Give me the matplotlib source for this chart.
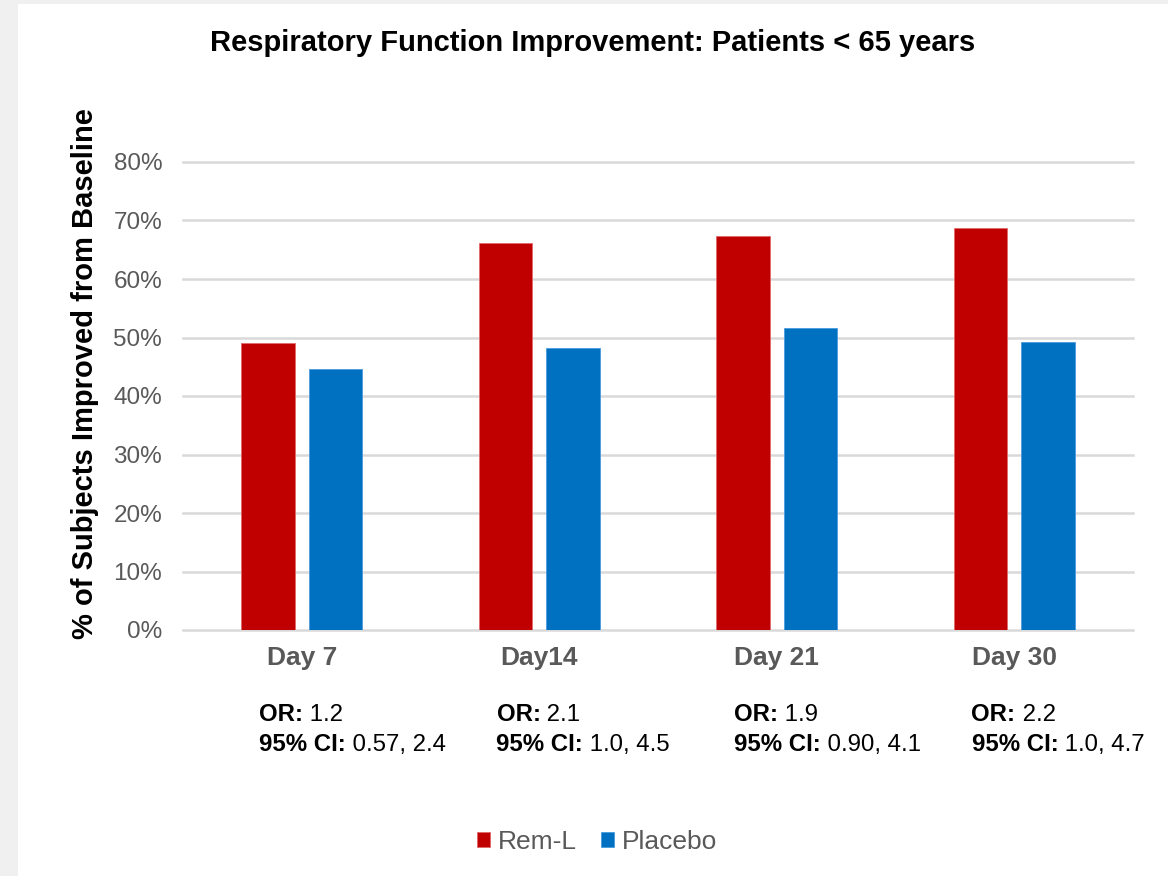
import numpy as np
import matplotlib.pyplot as plt
from matplotlib.patches import Rectangle

plt.rcParams['font.family'] = ['Liberation Sans', 'DejaVu Sans']

days = ["Day 7", "Day14", "Day 21", "Day 30"]
rem_l = [0.490, 0.662, 0.674, 0.687]
placebo = [0.446, 0.482, 0.516, 0.492]
odds_ratio = ["1.2", "2.1", "1.9", "2.2"]
conf_int = ["0.57, 2.4", "1.0, 4.5", "0.90, 4.1", "1.0, 4.7"]

red = '#C00000'
blue = '#0070C0'
grey_text = '#595959'

fig = plt.figure(figsize=(11.68, 8.76), dpi=100, facecolor='#F0F0F0')
fig.patches.append(Rectangle((18 / 1168, 0), 1, 1 - 4 / 876, transform=fig.transFigure,
                             facecolor='white', edgecolor='none', zorder=-10))

ax = fig.add_axes([183 / 1168, 1 - 630 / 876, 950 / 1168, 468 / 876])
ax.set_facecolor('none')

x = np.arange(len(days))
w = 0.225
off = 0.1415
ax.bar(x - off, rem_l, w, color=red, edgecolor='#E06A6A', linewidth=0.6, label='Rem-L', zorder=3)
ax.bar(x + off, placebo, w, color=blue, edgecolor='#4A9BE0', linewidth=0.6, label='Placebo', zorder=3)

ax.set_xlim(-0.5, len(days) - 0.5)
ax.set_ylim(0, 0.8)
yt = np.arange(0, 0.81, 0.1)
ax.set_yticks(yt)
ax.set_yticklabels([f"{int(round(v * 100))}%" for v in yt], color=grey_text, fontsize=17.5)
for v in yt:
    ax.axhline(v, color='#D9D9D9', linewidth=1.8, zorder=1, clip_on=False)
ax.set_xticks(x)
ax.set_xticklabels(days, fontsize=19, fontweight='bold', color=grey_text)
ax.tick_params(axis='x', length=0, pad=11.5)
ax.tick_params(axis='y', length=0, pad=15)
for s in ax.spines.values():
    s.set_visible(False)

# OR / CI annotations under each day
trans = ax.get_xaxis_transform()
for i in range(len(days)):
    t1 = ax.text(i - 0.18, -0.18, "OR:", transform=trans, fontsize=17.3, fontweight='bold',
                 va='center', ha='left')
    ax.annotate(" " + odds_ratio[i], xycoords=t1, xy=(1, 0), va='bottom', fontsize=17.3)
    t2 = ax.text(i - 0.18, -0.244, "95% CI:", transform=trans, fontsize=17.3, fontweight='bold',
                 va='center', ha='left')
    ax.annotate(" " + conf_int[i], xycoords=t2, xy=(1, 0), va='bottom', fontsize=17.3)

fig.text(593 / 1168, 1 - 43 / 876, "Respiratory Function Improvement: Patients < 65 years",
         ha='center', va='center', fontsize=21, fontweight='bold')
fig.text(85 / 1168, 1 - 374 / 876, "% of Subjects Improved from Baseline", rotation=90,
         ha='center', va='center', fontsize=21, fontweight='bold')

leg = fig.legend(loc='center', bbox_to_anchor=(597 / 1168, 1 - 842 / 876), ncol=2,
                 frameon=False, fontsize=19, handlelength=0.5, handleheight=0.5,
                 handletextpad=0.3, columnspacing=0.9)
for txt in leg.get_texts():
    txt.set_color(grey_text)

fig.savefig('out.png', dpi=100, facecolor=fig.get_facecolor())
